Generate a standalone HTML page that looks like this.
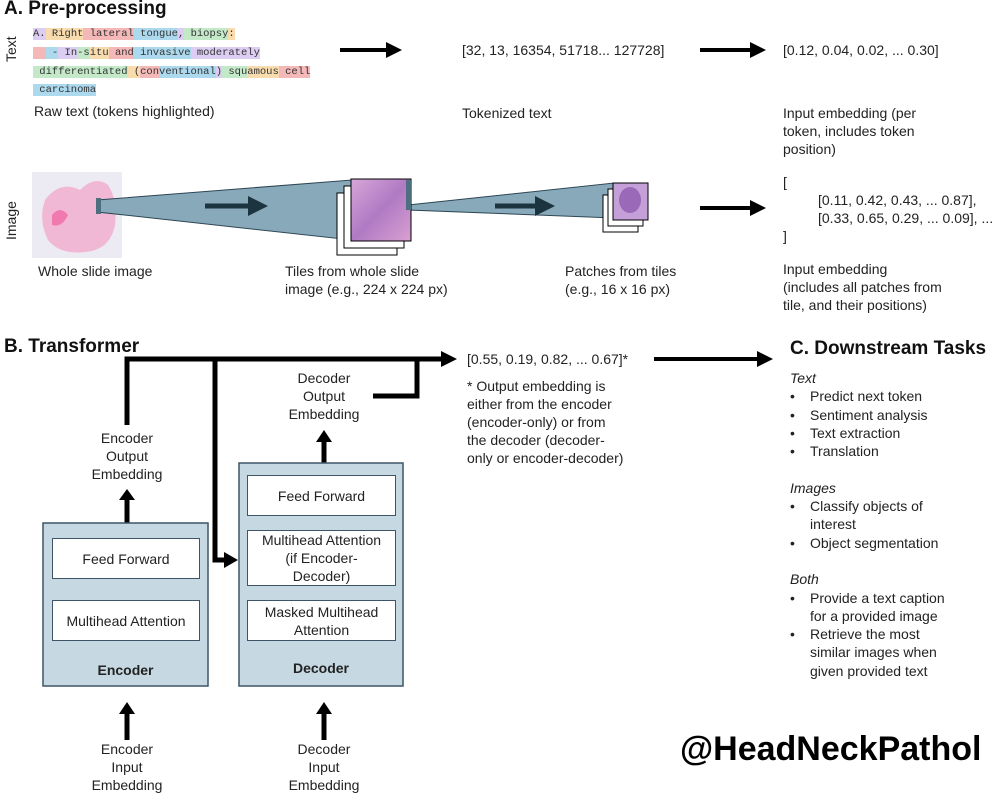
<!DOCTYPE html>
<html><head><meta charset="utf-8"><style>
body{margin:0;width:1000px;height:795px;background:#fff;position:relative;overflow:hidden;font-family:"Liberation Sans",sans-serif;color:#222;}
.t{position:absolute;font-size:14px;line-height:18px;white-space:nowrap;}
.c{text-align:center;}
.h{position:absolute;font-weight:bold;font-size:19px;color:#111;white-space:nowrap;}
.m{position:absolute;left:33px;font-family:"Liberation Mono",monospace;font-size:10.5px;line-height:15px;white-space:pre;color:#333;}
.p{background:#dccdf2}.o{background:#f9dcae}.r{background:#f5b8b8}.b{background:#acd9ee}.g{background:#c3e9c9}
.box{position:absolute;background:#fff;border:1.5px solid #3d5566;box-sizing:border-box;display:flex;align-items:center;justify-content:center;text-align:center;font-size:14px;line-height:18px;}
</style></head><body>
<svg width="1000" height="795" style="position:absolute;left:0;top:0">
<defs>
<marker id="a" markerWidth="4" markerHeight="4" refX="2" refY="2" orient="auto" markerUnits="strokeWidth"><path d="M0,0 L4,2 L0,4z" fill="#000"/></marker>
<marker id="n" markerWidth="4" markerHeight="4" refX="2" refY="2" orient="auto" markerUnits="strokeWidth"><path d="M0,0 L4,2 L0,4z" fill="#1c3440"/></marker>
<linearGradient id="pk" x1="0" y1="0" x2="1" y2="1"><stop offset="0" stop-color="#d8a6d8"/><stop offset=".5" stop-color="#b07ac4"/><stop offset="1" stop-color="#d9a0d0"/></linearGradient>
</defs>
<line x1="340" y1="50" x2="394" y2="50" stroke="#000" stroke-width="4" marker-end="url(#a)"/>
<line x1="700" y1="50" x2="758" y2="50" stroke="#000" stroke-width="4" marker-end="url(#a)"/>
<line x1="700" y1="208" x2="758" y2="208" stroke="#000" stroke-width="4" marker-end="url(#a)"/>
<rect x="32" y="172" width="90" height="86" fill="#eceaf2"/>
<path d="M45,200 Q60,180 80,190 Q95,175 108,185 Q118,200 115,225 Q110,250 85,252 Q60,255 48,240 Q38,220 45,200z" fill="#f1b8d6"/>
<path d="M52,215 Q60,205 68,215 Q62,228 52,225z" fill="#f07ab0"/>
<polygon points="97,200 352,180 352,240 97,212" fill="#88a9b9" stroke="#2d4654" stroke-width="1"/>
<polygon points="408,205 614,183 614,218 408,210" fill="#88a9b9" stroke="#2d4654" stroke-width="1"/>
<rect x="96" y="198" width="5" height="16" fill="#4d6f80"/>
<rect x="337" y="193" width="60" height="62" fill="#fff" stroke="#000"/>
<rect x="344" y="186" width="60" height="62" fill="#fff" stroke="#000"/>
<rect x="351" y="179" width="60" height="62" fill="url(#pk)" stroke="#000"/>
<rect x="406" y="180" width="5" height="30" fill="#4d6f80"/>
<rect x="603" y="195" width="35" height="37" fill="#fff" stroke="#000"/>
<rect x="608" y="189" width="35" height="37" fill="#fff" stroke="#000"/>
<rect x="613" y="183" width="35" height="37" fill="#c5a0d8" stroke="#000"/>
<ellipse cx="630" cy="200" rx="11" ry="13" fill="#9a6ab8"/>
<line x1="205" y1="206" x2="258" y2="206" stroke="#1c3440" stroke-width="5" marker-end="url(#n)"/>
<line x1="495" y1="206" x2="545" y2="206" stroke="#1c3440" stroke-width="5" marker-end="url(#n)"/>
<polyline points="127,425 127,359 445,359" fill="none" stroke="#000" stroke-width="5"/>
<polygon points="441,351 457,359 441,367" fill="#000"/>
<polyline points="215,359 215,560 226,560" fill="none" stroke="#000" stroke-width="5"/>
<polygon points="224,552 238,560 224,568" fill="#000"/>
<polyline points="373,396 417,396 417,359" fill="none" stroke="#000" stroke-width="5"/>
<line x1="654" y1="359" x2="765" y2="359" stroke="#000" stroke-width="4" marker-end="url(#a)"/>
<line x1="127" y1="523" x2="127" y2="498" stroke="#000" stroke-width="5"/><polygon points="119,500 127,489 135,500" fill="#000"/>
<line x1="324" y1="463" x2="324" y2="440" stroke="#000" stroke-width="5"/><polygon points="316,442 324,430 332,442" fill="#000"/>
<line x1="127" y1="740" x2="127" y2="712" stroke="#000" stroke-width="5"/><polygon points="119,714 127,702 135,714" fill="#000"/>
<line x1="324" y1="740" x2="324" y2="712" stroke="#000" stroke-width="5"/><polygon points="316,714 324,702 332,714" fill="#000"/>
<rect x="43" y="523" width="165" height="163" fill="#c6d8e2" stroke="#3d5566" stroke-width="1.5"/>
<rect x="239" y="463" width="164" height="223" fill="#c6d8e2" stroke="#3d5566" stroke-width="1.5"/>
</svg>

<div class="h" style="left:4px;top:-2px;">A. Pre-processing</div>
<div class="t" style="left:2px;top:62px;transform:rotate(-90deg);transform-origin:left top;">Text</div>
<div class="t" style="left:2px;top:240px;transform:rotate(-90deg);transform-origin:left top;">Image</div>

<div class="m" style="top:27px"><span class="p">A.</span><span class="o"> Right</span><span class="r"> lateral</span><span class="b"> tongue</span><span class="p">,</span><span class="g"> biopsy</span><span class="o">:</span></div>
<div class="m" style="top:46px"><span class="r">  </span><span class="b"> -</span><span class="p"> In</span><span class="g">-s</span><span class="o">itu</span><span class="r"> and</span><span class="b"> invasive</span><span class="p"> moderately</span></div>
<div class="m" style="top:65px"><span class="g"> differentiated</span><span class="o"> (</span><span class="r">con</span><span class="b">ventional</span><span class="p">)</span><span class="g"> squ</span><span class="o">amous</span><span class="r"> cell</span></div>
<div class="m" style="top:83px"><span class="b"> carcinoma</span></div>
<div class="t" style="left:34px;top:102px;">Raw text (tokens highlighted)</div>

<div class="t" style="left:462px;top:41px;">[32, 13, 16354, 51718... 127728]</div>
<div class="t" style="left:462px;top:104px;">Tokenized text</div>
<div class="t" style="left:783px;top:41px;">[0.12, 0.04, 0.02, ... 0.30]</div>
<div class="t" style="left:783px;top:104px;">Input embedding (per<br>token, includes token<br>position)</div>

<div class="t" style="left:783px;top:173px;">[</div>
<div class="t" style="left:818px;top:191px;">[0.11, 0.42, 0.43, ... 0.87],</div>
<div class="t" style="left:818px;top:209px;">[0.33, 0.65, 0.29, ... 0.09], ...</div>
<div class="t" style="left:783px;top:227px;">]</div>
<div class="t" style="left:38px;top:262px;">Whole slide image</div>
<div class="t" style="left:285px;top:262px;">Tiles from whole slide<br>image (e.g., 224 x 224 px)</div>
<div class="t" style="left:565px;top:262px;">Patches from tiles<br>(e.g., 16 x 16 px)</div>
<div class="t" style="left:783px;top:260px;">Input embedding<br>(includes all patches from<br>tile, and their positions)</div>

<div class="h" style="left:4px;top:336px;">B. Transformer</div>
<div class="t" style="left:467px;top:350px;">[0.55, 0.19, 0.82, ... 0.67]*</div>
<div class="t" style="left:467px;top:377px;">* Output embedding is<br>either from the encoder<br>(encoder-only) or from<br>the decoder (decoder-<br>only or encoder-decoder)</div>

<div class="t c" style="left:67px;width:120px;top:429px;">Encoder<br>Output<br>Embedding</div>
<div class="t c" style="left:264px;width:120px;top:369px;">Decoder<br>Output<br>Embedding</div>

<div class="box" style="left:52px;top:538px;width:148px;height:41px;">Feed Forward</div>
<div class="box" style="left:52px;top:600px;width:148px;height:41px;">Multihead Attention</div>
<div class="t c" style="left:43px;width:165px;top:661px;font-weight:bold;">Encoder</div>
<div class="box" style="left:247px;top:475px;width:149px;height:41px;">Feed Forward</div>
<div class="box" style="left:247px;top:530px;width:149px;height:56px;">Multihead Attention<br>(if Encoder-<br>Decoder)</div>
<div class="box" style="left:247px;top:600px;width:149px;height:41px;">Masked Multihead<br>Attention</div>
<div class="t c" style="left:239px;width:164px;top:659px;font-weight:bold;">Decoder</div>

<div class="t c" style="left:67px;width:120px;top:740px;">Encoder<br>Input<br>Embedding</div>
<div class="t c" style="left:264px;width:120px;top:740px;">Decoder<br>Input<br>Embedding</div>

<div class="h" style="left:790px;top:338px;">C. Downstream Tasks</div>
<div class="t" style="left:790px;top:369px;line-height:18.3px;">
<i>Text</i><br>
<span style="display:inline-block;width:20px">•</span>Predict next token<br>
<span style="display:inline-block;width:20px">•</span>Sentiment analysis<br>
<span style="display:inline-block;width:20px">•</span>Text extraction<br>
<span style="display:inline-block;width:20px">•</span>Translation<br><br>
<i>Images</i><br>
<span style="display:inline-block;width:20px">•</span>Classify objects of<br>
<span style="display:inline-block;width:20px"></span>interest<br>
<span style="display:inline-block;width:20px">•</span>Object segmentation<br><br>
<i>Both</i><br>
<span style="display:inline-block;width:20px">•</span>Provide a text caption<br>
<span style="display:inline-block;width:20px"></span>for a provided image<br>
<span style="display:inline-block;width:20px">•</span>Retrieve the most<br>
<span style="display:inline-block;width:20px"></span>similar images when<br>
<span style="display:inline-block;width:20px"></span>given provided text
</div>

<div class="h" style="left:680px;top:730px;font-size:34px;color:#000;">@HeadNeckPathol</div>
</body></html>
